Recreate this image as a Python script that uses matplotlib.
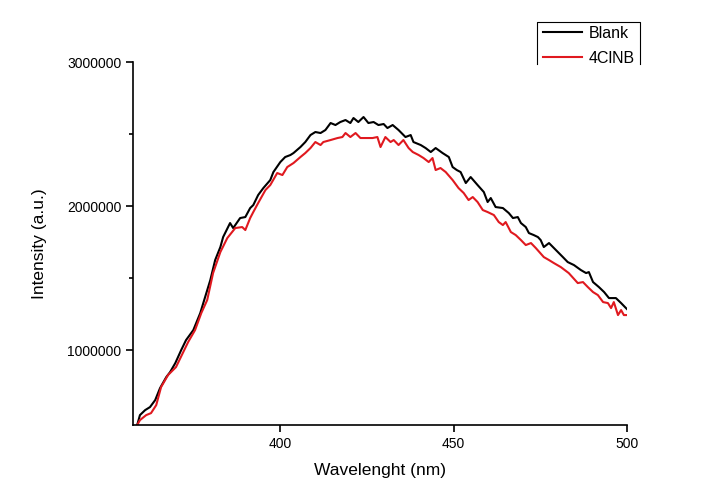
import matplotlib
matplotlib.use("Agg")
import matplotlib.pyplot as plt
from matplotlib.lines import Line2D
from matplotlib.ticker import MultipleLocator, FixedLocator

plt.rcParams['font.family'] = ['Liberation Sans', 'DejaVu Sans']

blank_wl = [358.7, 359.5, 361.0, 362.4, 363.9, 365.3, 367.1, 368.2, 369.7, 371.4,
            372.8, 374.9, 376.9, 378.3, 379.8, 381.2, 382.7, 383.5, 385.5, 386.4,
            387.6, 388.4, 389.9, 391.3, 392.2, 393.6, 395.1, 397.1, 398.0, 400.0,
            401.4, 402.9, 403.8, 405.8, 407.2, 408.7, 410.1, 411.6, 413.0, 414.5,
            415.9, 417.3, 418.8, 420.2, 421.1, 422.5, 424.0, 425.4, 426.9, 428.3,
            429.8, 430.9, 432.4, 434.1, 436.1, 437.6, 438.4, 440.5, 441.9, 443.4,
            444.8, 446.8, 448.6, 449.7, 450.9, 452.0, 453.5, 454.9, 456.9, 458.7,
            459.8, 460.7, 462.1, 464.2, 465.9, 467.1, 468.5, 469.4, 470.8, 471.7,
            473.1, 474.3, 475.1, 476.0, 477.5, 479.5, 481.5, 482.9, 484.7, 486.7,
            488.2, 489.0, 490.2, 491.9, 493.4, 494.8, 496.8, 498.3, 499.7, 500.0]
blank_int = [479300, 548700, 583400, 604300, 652900, 736200, 812600, 847300, 909800, 1000000,
             1069500, 1138900, 1257000, 1368100, 1486100, 1625000, 1715300, 1784700, 1882000, 1847200,
             1888900, 1916700, 1923600, 1986100, 2006900, 2076400, 2125000, 2180500, 2236100, 2305500,
             2340300, 2354200, 2368000, 2409700, 2444400, 2493000, 2513900, 2506900, 2527700, 2576400,
             2562500, 2583300, 2597200, 2576400, 2611100, 2583300, 2618000, 2576400, 2583300, 2562500,
             2569400, 2541600, 2562500, 2527700, 2479100, 2493000, 2444400, 2423600, 2402800, 2375000,
             2402800, 2368000, 2340300, 2270800, 2250000, 2236100, 2159700, 2201400, 2145800, 2097200,
             2027800, 2055600, 1993100, 1986100, 1951400, 1916700, 1923600, 1882000, 1854200, 1812500,
             1798600, 1784700, 1763900, 1715300, 1743100, 1694400, 1645800, 1611100, 1590300, 1555600,
             1534700, 1541700, 1472300, 1437500, 1402800, 1361100, 1361100, 1326400, 1291700, 1284700]

clnb_wl = [358.7, 359.5, 361.3, 362.7, 364.2, 365.6, 367.6, 369.9, 372.0, 373.4,
           375.4, 377.2, 378.9, 380.6, 382.7, 384.7, 387.0, 389.0, 389.9, 391.3,
           392.2, 393.6, 395.7, 397.1, 399.1, 400.6, 402.0, 403.8, 405.8, 407.2,
           408.7, 410.1, 411.6, 412.4, 414.5, 416.5, 417.9, 418.8, 420.2, 421.7,
           423.1, 425.1, 426.6, 428.0, 428.9, 430.3, 431.8, 432.7, 434.1, 435.5,
           437.0, 438.2, 439.9, 441.3, 442.8, 443.9, 444.8, 446.2, 447.7, 449.7,
           451.4, 452.9, 454.3, 455.5, 456.9, 458.4, 459.8, 461.6, 463.0, 464.2,
           465.0, 466.5, 467.9, 469.4, 470.8, 472.3, 473.7, 476.0, 477.5, 478.9,
           480.9, 483.2, 485.8, 487.3, 488.7, 490.2, 491.6, 493.1, 494.5, 495.4,
           496.2, 497.4, 498.3, 499.1, 500.0]
clnb_int = [479300, 513900, 548700, 562500, 618100, 743100, 826500, 882000, 986200, 1055600,
            1138900, 1257000, 1347300, 1534800, 1680600, 1777800, 1847200, 1854200, 1833400, 1916700,
            1958300, 2020800, 2111100, 2145800, 2229200, 2215300, 2270800, 2298600, 2340300, 2368000,
            2402800, 2444400, 2423600, 2444400, 2458300, 2472200, 2479100, 2506900, 2479100, 2506900,
            2472200, 2472200, 2472200, 2479100, 2409700, 2479100, 2444400, 2458300, 2423600, 2458300,
            2402800, 2375000, 2354200, 2333300, 2305500, 2333300, 2250000, 2263900, 2236100, 2180500,
            2125000, 2090300, 2041700, 2062500, 2027800, 1972200, 1958300, 1937500, 1888900, 1868100,
            1888900, 1819400, 1798600, 1763900, 1729200, 1743100, 1708300, 1645800, 1625000, 1604200,
            1576400, 1534700, 1465300, 1472200, 1437500, 1402800, 1381900, 1333300, 1326400, 1291700,
            1333300, 1243100, 1277800, 1243100, 1243100]

W, H = 716, 504
fig = plt.figure(figsize=(W / 100, H / 100), dpi=100)
ax = fig.add_axes([133 / W, 1 - 425 / H, (627 - 133) / W, (425 - 62) / H])

ax.plot(blank_wl, blank_int, color='black', lw=1.5, label='Blank')
ax.plot(clnb_wl, clnb_int, color='#e0191f', lw=1.5, label='4ClNB')

ax.set_xlim(357.5, 500)
ax.set_ylim(480000, 3000000)
ax.xaxis.set_major_locator(MultipleLocator(50))
ax.yaxis.set_major_locator(MultipleLocator(1000000))
ax.yaxis.set_minor_locator(FixedLocator([1500000, 2500000]))
ax.ticklabel_format(axis='y', style='plain', useOffset=False)

for s in ['top', 'right']:
    ax.spines[s].set_visible(False)
for s in ['left', 'bottom']:
    ax.spines[s].set_linewidth(1.2)
ax.tick_params(which='major', direction='out', length=5, width=1.2, labelsize=10)
ax.tick_params(which='minor', direction='out', length=3, width=1.2)

ax.set_xlabel('Wavelenght (nm)', fontsize=12.5, labelpad=9)
ax.set_ylabel('Intensity (a.u.)', fontsize=12.5, labelpad=14)

# legend (frame drawn open at the bottom, as in the original)
leg = fig.legend(loc='upper left', bbox_to_anchor=(543 / W, 1 - 26 / H),
                 fontsize=11.5, frameon=False, handlelength=2.45, borderpad=0,
                 borderaxespad=0, labelspacing=0.6, handletextpad=0.4)
fig.add_artist(Line2D([537 / W, 537 / W, 640 / W, 640 / W],
                      [1 - 64 / H, 1 - 22 / H, 1 - 22 / H, 1 - 64 / H],
                      transform=fig.transFigure, color='black', lw=0.8))

fig.savefig('out.png', dpi=100)
